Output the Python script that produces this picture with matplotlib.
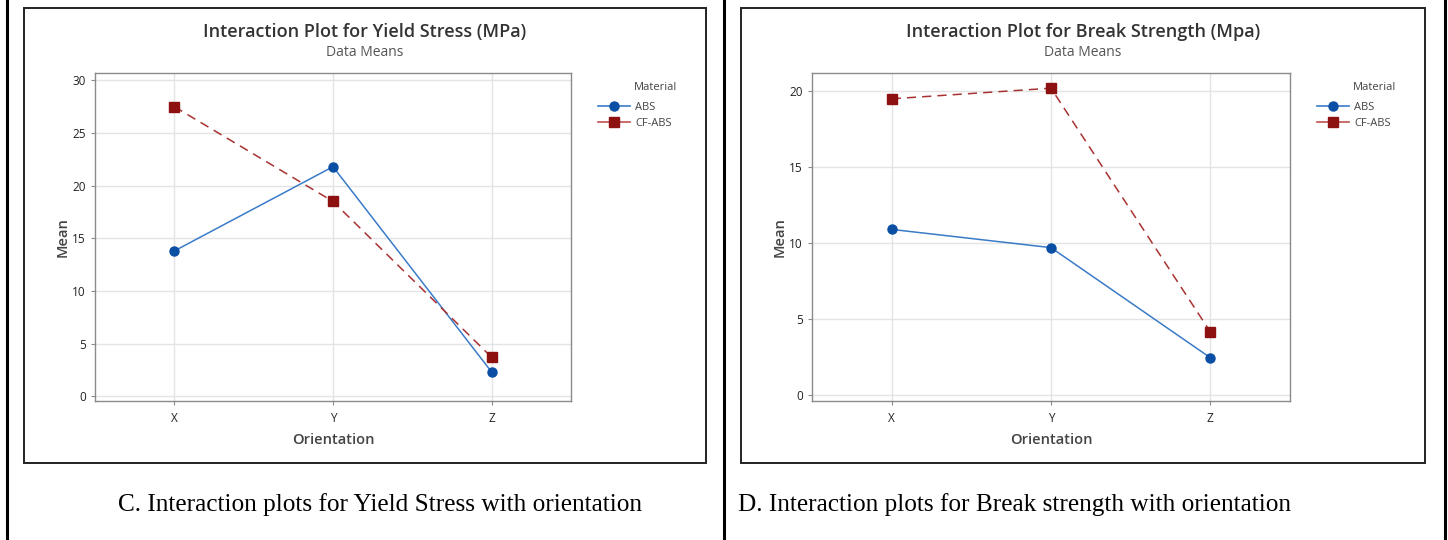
import matplotlib
matplotlib.use("Agg")
import matplotlib.pyplot as plt
from matplotlib.patches import Rectangle
from matplotlib.lines import Line2D

# data
orientasi = ["X", "Y", "Z"]
material = ["ABS", "CF-ABS"]

yield_abs = [13.8, 21.8, 2.3]
yield_cfabs = [27.5, 18.5, 3.7]

break_abs = [10.9, 9.7, 2.45]
break_cfabs = [19.5, 20.2, 4.15]

judul = ["Interaction Plot for Yield Stress (MPa)", "Interaction Plot for Break Strength (Mpa)"]
caption = ["C. Interaction plots for Yield Stress with orientation",
           "D. Interaction plots for Break strength with orientation"]

W, H = 1448, 540
fig = plt.figure(figsize=(W / 100, H / 100), dpi=100)
plt.rcParams['font.family'] = ['Open Sans', 'DejaVu Sans']

def fx(x):
    return x / W

def fy(y):
    return 1 - y / H

biru = "#0A4FA3"
biru_garis = "#3A7BC8"
merah = "#8E1111"
merah_garis = "#A83232"
abu = "#444444"

# garis tabel
for x in [7, 724, 1445]:
    fig.add_artist(Line2D([fx(x), fx(x)], [0, 1], color="black", lw=2.2))

# kotak panel
for x0, x1 in [(24, 706), (741, 1425)]:
    fig.add_artist(Rectangle((fx(x0), fy(463)), fx(x1 - x0), (463 - 8) / H,
                             fill=False, ec="#222222", lw=1.4))


def gambar_panel(ax_px, data_abs, data_cf, ylim, yticks, title, cx, leg_x):
    x0, x1, y0, y1 = ax_px
    ax = fig.add_axes([fx(x0), fy(y1), fx(x1 - x0), (y1 - y0) / H])
    pos = range(len(orientasi))
    ax.plot(pos, data_abs, color=biru_garis, lw=1.1, marker="o", ms=6.5,
            mfc=biru, mec=biru, zorder=3)
    ax.plot(pos, data_cf, color=merah_garis, lw=1.1, ls=(0, (6, 4)), marker="s", ms=6.5,
            mfc=merah, mec=merah, zorder=3)
    ax.set_xlim(-0.5, 2.5)
    ax.set_ylim(*ylim)
    ax.set_yticks(yticks)
    ax.set_xticks(list(pos))
    ax.set_xticklabels(orientasi)
    ax.grid(True, color="#e4e4e4", lw=1)
    ax.set_axisbelow(True)
    for s in ax.spines.values():
        s.set_color("#8a8a8a")
        s.set_linewidth(1.0)
    ax.tick_params(colors="#8a8a8a", labelcolor="#222222", labelsize=8.5, length=3, width=0.8)
    ax.tick_params(axis="x", pad=5)
    ax.set_xlabel("Orientation", fontsize=10.5, color=abu, fontweight="semibold", labelpad=6)
    ax.set_ylabel("Mean", fontsize=10.5, color=abu, fontweight="semibold", labelpad=2)
    fig.text(fx(cx), fy(32), title, ha="center", va="center", fontsize=13,
             fontweight="semibold", color="#333333")
    fig.text(fx(cx), fy(53), "Data Means", ha="center", va="center", fontsize=10,
             color="#555555")
    # legenda
    fig.text(fx(leg_x + 42), fy(88), "Material", ha="left", va="center", fontsize=8,
             color=abu)
    handles = [Line2D([], [], color=biru_garis, lw=1.2, marker="o", ms=6.5, mfc=biru, mec=biru),
               Line2D([], [], color="#C05050", lw=1.2, marker="s", ms=6.5, mfc=merah, mec=merah)]
    leg = ax.legend(handles, material, loc="upper left", bbox_to_anchor=(fx(leg_x), fy(96)),
                    bbox_transform=fig.transFigure, frameon=False, fontsize=8,
                    handlelength=2.9, handletextpad=0.5, labelspacing=0.52, borderpad=0)
    for t in leg.get_texts():
        t.set_color(abu)
    return ax

ax1 = gambar_panel((95, 571, 73, 401), yield_abs, yield_cfabs, (-0.45, 30.7),
                   [0, 5, 10, 15, 20, 25, 30], judul[0], 365, 592)
ax2 = gambar_panel((812, 1290, 73, 401), break_abs, break_cfabs, (-0.4, 21.2),
                   [0, 5, 10, 15, 20], judul[1], 1083, 1311)

# keterangan gambar
fig.text(fx(118), fy(505), caption[0], ha="left", va="center", fontsize=18.2,
         family="Liberation Serif", color="black")
fig.text(fx(738), fy(505), caption[1], ha="left", va="center", fontsize=18.2,
         family="Liberation Serif", color="black")

fig.savefig("out.png", dpi=100)
